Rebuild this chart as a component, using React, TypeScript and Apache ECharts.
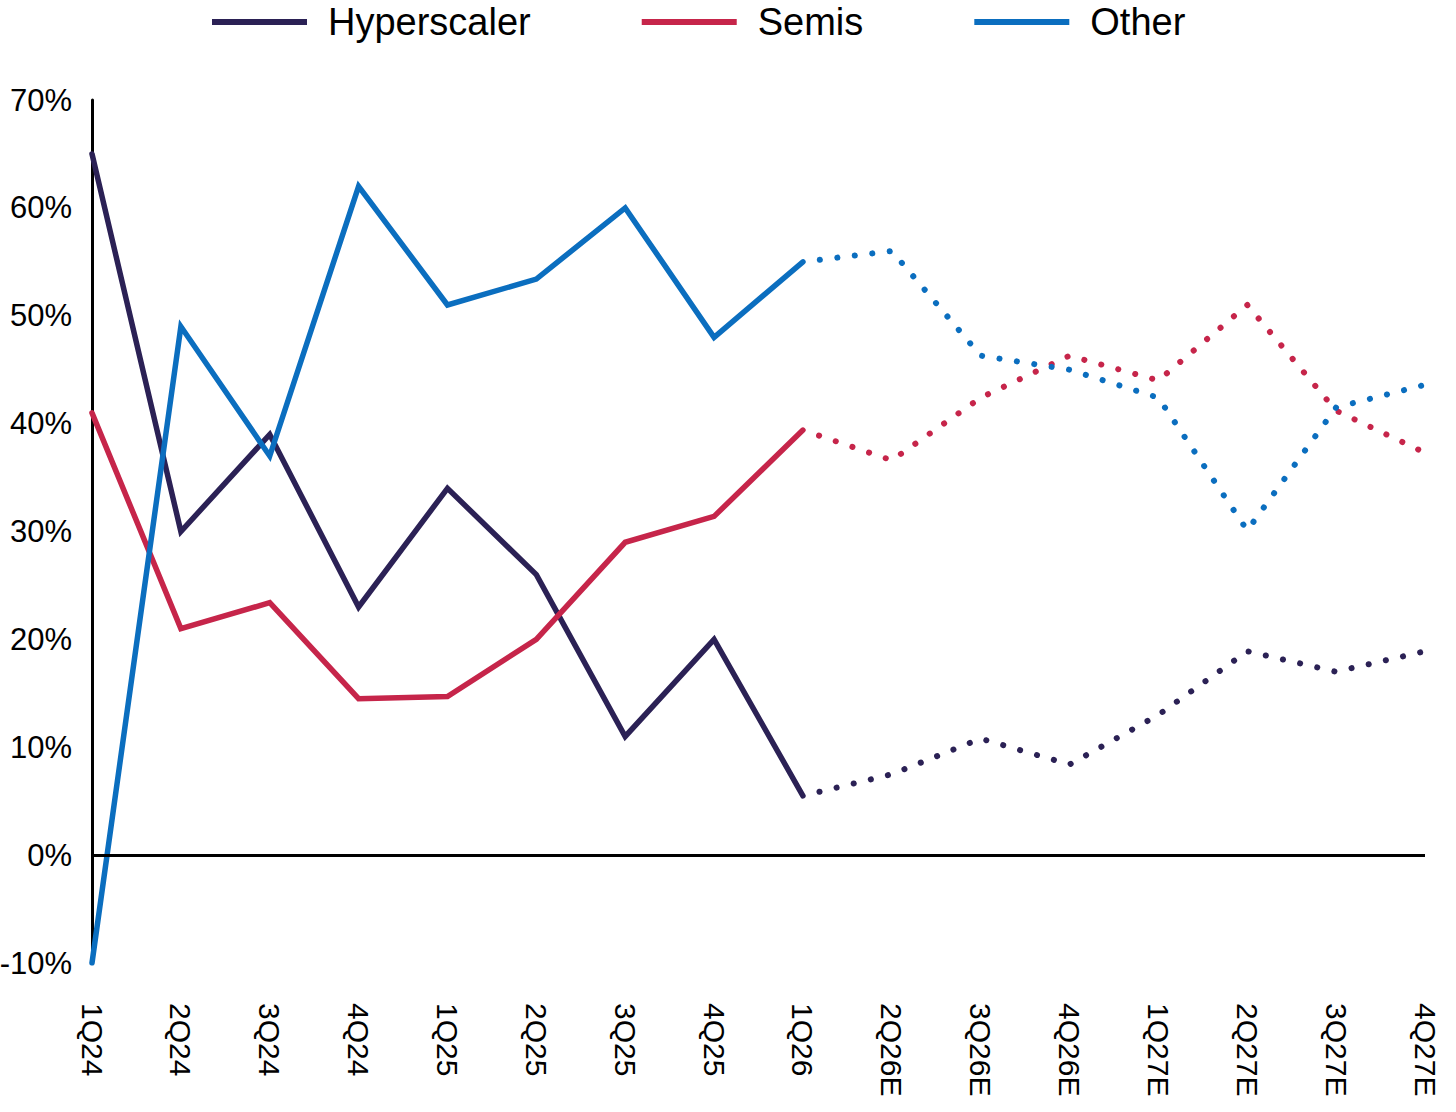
import React, { useEffect, useRef } from "react";
import * as echarts from "echarts";

const categories = [
  "1Q24", "2Q24", "3Q24", "4Q24", "1Q25", "2Q25", "3Q25", "4Q25", "1Q26",
  "2Q26E", "3Q26E", "4Q26E", "1Q27E", "2Q27E", "3Q27E", "4Q27E",
];

// Actuals (1Q24 - 1Q26)
const hyperscalerActual = [65, 30, 39, 23, 34, 26, 11, 20, 5.5];
const semisActual = [41, 21, 23.4, 14.5, 14.7, 20, 29, 31.4, 39.4];
const otherActual = [-10, 49, 37, 62, 51, 53.4, 60, 48, 55];

// Estimates (1Q26 - 4Q27E)
const hyperscalerEst = [5.5, 7.5, 10.8, 8.4, 13, 18.9, 17, 18.9];
const semisEst = [39.4, 36.6, 42.4, 46.3, 44, 51, 41.2, 37.3];
const otherEst = [55, 56, 46.3, 45, 42.4, 30.1, 41.5, 43.6];

const yTicks = { min: -10, max: 70, interval: 10 };

const COLORS = {
  Hyperscaler: "#2B2155",
  Semis: "#C6254A",
  Other: "#0B6EBF",
};

const FONT = "'Liberation Sans', Arial, Helvetica, sans-serif";

function actualData(vals: number[]) {
  return categories.map((_, i) => (i < vals.length ? vals[i] : null));
}
function estData(vals: number[]) {
  const start = categories.length - vals.length;
  return categories.map((_, i) => (i >= start ? vals[i - start] : null));
}

export default function App() {
  const ref = useRef<HTMLDivElement>(null);

  useEffect(() => {
    document.body.style.margin = "0";
    if (!ref.current) return;
    const chart = echarts.init(ref.current, undefined, { renderer: "svg" });

    const solid = (name: string, vals: number[]) => ({
      name,
      type: "line",
      data: actualData(vals),
      color: COLORS[name as keyof typeof COLORS],
      symbol: "none",
      connectNulls: false,
      lineStyle: { width: 5.5, join: "miter", cap: "round" },
      z: 3,
    });
    const dotted = (name: string, vals: number[]) => ({
      name: name + " (est.)",
      type: "line",
      data: estData(vals),
      color: COLORS[name as keyof typeof COLORS],
      symbol: "none",
      lineStyle: { width: 6, type: [0.1, 17.5], dashOffset: -17, cap: "round" },
      z: 3,
    });

    chart.setOption({
      animation: false,
      textStyle: { fontFamily: FONT },
      legend: {
        data: ["Hyperscaler", "Semis", "Other"],
        left: 207,
        top: -2,
        icon: "rect",
        itemWidth: 95,
        itemHeight: 6,
        itemGap: 111,
        textStyle: {
          fontSize: 38,
          color: "#000",
          fontFamily: FONT,
          padding: [0, 0, 0, 16],
        },
      },
      grid: {
        left: 92,
        right: 31,
        top: 100,
        bottom: 149,
        containLabel: false,
        outerBoundsMode: "none",
      },
      xAxis: {
        type: "category",
        data: categories,
        boundaryGap: false,
        axisLine: { show: false, onZero: false },
        axisTick: { show: false },
        splitLine: { show: false },
        axisLabel: {
          rotate: -90,
          interval: 0,
          margin: 40,
          fontSize: 30,
          color: "#000",
          fontFamily: FONT,
        },
      },
      yAxis: {
        type: "value",
        min: yTicks.min,
        max: yTicks.max,
        interval: yTicks.interval,
        axisLine: { show: true, lineStyle: { color: "#000", width: 3 } },
        axisTick: { show: false },
        splitLine: { show: false },
        axisLabel: {
          formatter: "{value}%",
          margin: 20,
          fontSize: 31,
          color: "#000",
          fontFamily: FONT,
        },
      },
      series: [
        {
          name: "zero",
          type: "line",
          data: [],
          z: 1,
          markLine: {
            silent: true,
            symbol: "none",
            label: { show: false },
            lineStyle: { color: "#000", width: 3, type: "solid" },
            data: [{ yAxis: 0 }],
          },
        },
        solid("Hyperscaler", hyperscalerActual),
        dotted("Hyperscaler", hyperscalerEst),
        solid("Semis", semisActual),
        dotted("Semis", semisEst),
        solid("Other", otherActual),
        dotted("Other", otherEst),
      ],
    });

    return () => chart.dispose();
  }, []);

  return <div ref={ref} style={{ width: 1456, height: 1112 }} />;
}
